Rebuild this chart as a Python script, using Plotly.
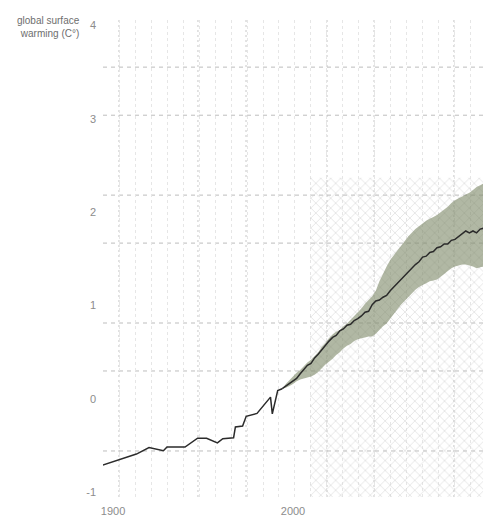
import plotly.graph_objects as go

# Observed global surface temperature anomaly (°C)
hist_years = [1894, 1903, 1913, 1920, 1928, 1930, 1940, 1947, 1952, 1958, 1961,
              1967, 1968, 1972, 1974, 1980, 1987.5, 1988.5, 1991.5, 1994]
hist_values = [-0.71, -0.65, -0.59, -0.52, -0.555, -0.515, -0.515, -0.42, -0.42, -0.47, -0.425,
               -0.415, -0.30, -0.29, -0.185, -0.155, 0.02, -0.16, 0.09, 0.11]

# Projection (ensemble mean and range), two-year steps
proj_years = list(range(1994, 2107, 2))
proj_mean = [0.11, 0.14, 0.16, 0.19, 0.22, 0.27, 0.31, 0.36, 0.38, 0.44, 0.48, 0.53, 0.57, 0.62,
             0.66, 0.68, 0.73, 0.75, 0.79, 0.80, 0.84, 0.86, 0.89, 0.93, 0.94, 1.01, 1.05, 1.06,
             1.09, 1.11, 1.16, 1.20, 1.24, 1.29, 1.33, 1.37, 1.40, 1.44, 1.47, 1.52, 1.53, 1.57,
             1.58, 1.62, 1.63, 1.66, 1.66, 1.70, 1.71, 1.74, 1.77, 1.80, 1.78, 1.80, 1.78, 1.82, 1.83]
proj_upper = [0.11, 0.16, 0.20, 0.24, 0.28, 0.31, 0.35, 0.39, 0.42, 0.46, 0.50, 0.56, 0.60, 0.65,
              0.69, 0.72, 0.74, 0.78, 0.81, 0.85, 0.89, 0.93, 0.97, 1.02, 1.06, 1.10, 1.16, 1.26,
              1.34, 1.42, 1.49, 1.54, 1.59, 1.64, 1.69, 1.74, 1.78, 1.82, 1.85, 1.88, 1.91, 1.93,
              1.95, 1.97, 2.00, 2.03, 2.06, 2.10, 2.13, 2.15, 2.17, 2.19, 2.21, 2.24, 2.27, 2.29, 2.31]
proj_lower = [0.11, 0.12, 0.14, 0.16, 0.19, 0.21, 0.22, 0.23, 0.24, 0.26, 0.29, 0.33, 0.37, 0.40,
              0.43, 0.47, 0.50, 0.54, 0.57, 0.59, 0.62, 0.64, 0.65, 0.66, 0.67, 0.67, 0.70, 0.74,
              0.78, 0.81, 0.86, 0.91, 0.96, 1.01, 1.05, 1.09, 1.13, 1.17, 1.20, 1.22, 1.24, 1.26,
              1.27, 1.28, 1.31, 1.34, 1.37, 1.40, 1.42, 1.43, 1.44, 1.44, 1.43, 1.42, 1.40, 1.41, 1.42]

# Shaded projection period box
hatch_x = [2009.5, 2110]
hatch_y = [-1.1, 2.37]

x_ticks = [1900, 2000, 2100]
y_ticks = [4, 3, 2, 1, 0, -1]
y_tick_text = ["4", "3", "2", "1", "0", "-1"]

X_RANGE = [1894.44, 2105.56]
Y_RANGE = [-1.05, 4.06]

# Background dashed guide lines
guide_x = [1903.3, 1947.2, 1973.9, 2018.9, 2045.0, 2089.4]
guide_y = [3.555, 3.04, 2.184, 1.67, 0.814, 0.30, -0.557]

LABEL_GREY = "#8c8c8c"

fig = go.Figure()

fig.add_trace(go.Scatter(
    x=[hatch_x[0], hatch_x[1], hatch_x[1], hatch_x[0], hatch_x[0]],
    y=[hatch_y[0], hatch_y[0], hatch_y[1], hatch_y[1], hatch_y[0]],
    mode="none", fill="toself", fillcolor="rgba(255,255,255,0)",
    fillpattern=dict(shape="x", size=7, solidity=0.14, fgcolor="#d0d0d0",
                     bgcolor="rgba(255,255,255,0)"),
    hoverinfo="skip", showlegend=False,
))

fig.add_trace(go.Scatter(
    x=proj_years + proj_years[::-1],
    y=proj_upper + proj_lower[::-1],
    mode="none", fill="toself", fillcolor="rgba(125,136,104,0.6)",
    hoverinfo="skip", showlegend=False,
))

fig.add_trace(go.Scatter(
    x=hist_years, y=hist_values, mode="lines",
    line=dict(color="#2b2b2b", width=1.5), showlegend=False,
))

fig.add_trace(go.Scatter(
    x=proj_years, y=proj_mean, mode="lines",
    line=dict(color="#2b2b2b", width=1.5), showlegend=False,
))

shapes = []
for gx in guide_x:
    shapes.append(dict(type="line", xref="x", yref="paper", x0=gx, x1=gx, y0=0, y1=1,
                       line=dict(color="#c8c8c8", width=1, dash="2px,3px"), layer="below"))
for gy in guide_y:
    shapes.append(dict(type="line", xref="paper", yref="y", x0=0, x1=1, y0=gy, y1=gy,
                       line=dict(color="#bdbdbd", width=1, dash="4px,4px"), layer="below"))

fig.update_layout(
    template="none",
    width=483, height=530,
    margin=dict(l=103, r=0, t=20, b=33),
    paper_bgcolor="white", plot_bgcolor="white",
    font=dict(family="Liberation Sans, Arial, sans-serif", color=LABEL_GREY, size=11),
    shapes=shapes,
    xaxis=dict(
        range=X_RANGE, tickmode="array", tickvals=x_ticks,
        showgrid=False, zeroline=False, showline=False, ticks="",
        ticklabelstandoff=6, tickfont=dict(color=LABEL_GREY, size=11),
        minor=dict(tickmode="linear", tick0=1894.44, dtick=8.889, showgrid=True,
                   gridcolor="#e6e6e6", griddash="dot", gridwidth=1, ticks=""),
    ),
    yaxis=dict(
        range=Y_RANGE, tickmode="array", tickvals=y_ticks, ticktext=y_tick_text,
        showgrid=False, zeroline=False, showline=False, ticks="",
        ticklabelstandoff=6, tickfont=dict(color=LABEL_GREY, size=11),
    ),
    annotations=[
        dict(text="global surface<br>warming (C°)", xref="paper", yref="paper",
             x=-0.055, y=1.014, xanchor="right", yanchor="top", align="right",
             showarrow=False, font=dict(size=10, color="#6e6e6e")),
    ],
)

fig.write_html("out.html")
